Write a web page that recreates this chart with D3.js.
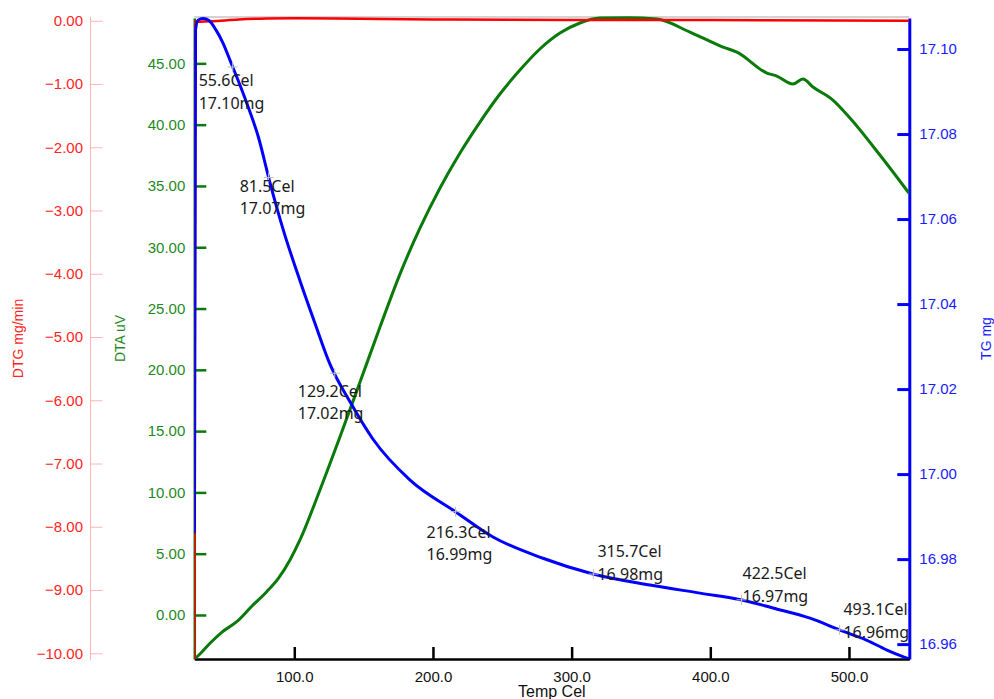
<!DOCTYPE html>
<html>
<head>
<meta charset="utf-8">
<script src="https://cdn.jsdelivr.net/npm/d3@7"></script>
<style>
  body { margin: 0; background: #fff; }
  svg { display: block; }
</style>
</head>
<body>
<div id="chart"></div>
<script>
// TG curve (Temp Cel, mg)
var tgTemp = [28.0, 28.8, 30.6, 34.2, 38.5, 43.5, 48.6, 53.6, 59.4, 65.7, 74.1, 82.5, 92.1, 104.1, 114.9, 125.8, 140.2, 156.8, 183.5, 216.5, 243.3, 279.3, 315.4, 356.5, 392.6, 422.8, 445.2, 471.9, 493.5, 513.0, 527.4, 541.8, 543.3];
var tgMass = [16.9861, 17.1045, 17.1068, 17.1072, 17.1067, 17.1045, 17.1014, 17.0974, 17.0927, 17.0873, 17.0793, 17.0685, 17.0574, 17.0455, 17.0355, 17.0258, 17.0170, 17.0082, 16.9986, 16.9911, 16.9852, 16.9802, 16.9765, 16.9739, 16.9720, 16.9704, 16.9685, 16.9661, 16.9633, 16.9609, 16.9586, 16.9567, 16.9565];

// DTA curve (Temp Cel, uV)
var dtaTemp = [27.9, 32.0, 39.2, 47.9, 58.5, 69.5, 80.1, 88.5, 96.9, 104.1, 118.5, 132.9, 147.4, 161.8, 176.2, 190.7, 205.1, 219.5, 233.9, 248.3, 262.7, 277.1, 291.6, 306.0, 320.4, 340.6, 361.5, 385.3, 409.1, 419.2, 440.8, 448.0, 459.6, 466.8, 474.0, 488.4, 500.7, 522.3, 543.2];
var dtaVal = [-3.59, -3.18, -2.31, -1.39, -0.55, 0.73, 1.90, 2.99, 4.49, 6.12, 10.20, 14.52, 19.00, 23.49, 27.81, 31.57, 34.83, 37.68, 40.21, 42.50, 44.45, 46.17, 47.47, 48.29, 48.69, 48.72, 48.61, 47.55, 46.33, 45.92, 44.21, 43.96, 43.31, 43.72, 43.07, 42.01, 40.54, 37.52, 34.42];

// DTG curve (Temp Cel, mg/min)
var dtgTemp = [27.9, 28.6, 40, 60, 80, 100, 130, 200, 300, 400, 543.3];
var dtgVal = [-10.2, -0.02, -0.01, 0.02, 0.035, 0.04, 0.035, 0.02, 0.01, 0.01, 0.0];

// annotations
var annTemp = [55.6, 81.5, 129.2, 216.3, 315.7, 422.5, 493.1];
var annTempText = ["55.6Cel", "81.5Cel", "129.2Cel", "216.3Cel", "315.7Cel", "422.5Cel", "493.1Cel"];
var annMassText = ["17.10mg", "17.07mg", "17.02mg", "16.99mg", "16.98mg", "16.97mg", "16.96mg"];
// label offset from the point, px
var annOffset = [[-34, 36], [-29, 31], [-37, 40], [-29, 43], [4, 0], [1, -4], [4, 2]];

// ticks
var xTicks = [100, 200, 300, 400, 500];
var dtaTicks = [0, 5, 10, 15, 20, 25, 30, 35, 40, 45];
var dtgTicks = [0, -1, -2, -3, -4, -5, -6, -7, -8, -9, -10];
var tgTicks = [16.96, 16.98, 17.00, 17.02, 17.04, 17.06, 17.08, 17.10];

var width = 994, height = 699;
var pLeft = 194.3, pRight = 909.3, pTop = 18, pBottom = 659;

var red = "#ff0000", green = "#0a780a", blue = "#0000ff";

var svg = d3.select("#chart").append("svg")
    .attr("width", width)
    .attr("height", height);

var x = d3.scaleLinear().domain([27.9, 543.5]).range([pLeft, pRight]);
var yTG = d3.scaleLinear().domain([16.9565, 17.1073]).range([pBottom, pTop]);
var yDTA = d3.scaleLinear().domain([-3.59, 48.70]).range([pBottom, pTop]);
var yDTG = d3.scaleLinear().domain([-10.09, 0.043]).range([pBottom, pTop]);

svg.append("clipPath").attr("id", "clip")
  .append("rect")
    .attr("x", pLeft).attr("y", pTop - 3)
    .attr("width", pRight - pLeft).attr("height", pBottom - pTop + 3);

// top frame line
svg.append("line")
    .attr("x1", pLeft).attr("x2", pRight)
    .attr("y1", pTop - 1).attr("y2", pTop - 1)
    .attr("stroke", "#c4c4c4")
    .attr("stroke-width", 1.5);

var tickFont = "'Liberation Sans', Arial, sans-serif";

// DTG axis (far left)
var gDTG = svg.append("g")
    .attr("transform", "translate(90.5,0)")
    .call(d3.axisLeft(yDTG).tickValues(dtgTicks).tickFormat(d3.format(".2f"))
        .tickSize(-12).tickSizeOuter(0).tickPadding(7.5));
gDTG.select(".domain").attr("stroke", "#ffb5b5").attr("d", "M0," + (pTop - 1) + "V" + (pBottom + 1));
gDTG.selectAll(".tick line").attr("stroke", "#ffb5b5");
gDTG.selectAll(".tick text").attr("fill", "#ff2424").style("font-family", tickFont).style("font-size", "15px");

// DTA axis
var gDTA = svg.append("g")
    .attr("transform", "translate(" + pLeft + ",0)")
    .call(d3.axisLeft(yDTA).tickValues(dtaTicks).tickFormat(d3.format(".2f"))
        .tickSize(-12).tickSizeOuter(0).tickPadding(9));
gDTA.select(".domain").attr("stroke", green).attr("stroke-width", 2.5);
gDTA.selectAll(".tick line").attr("stroke", green).attr("stroke-width", 2.5);
gDTA.selectAll(".tick text").attr("fill", "#1e8a1e").style("font-family", tickFont).style("font-size", "15px");

// TG axis (right)
var gTG = svg.append("g")
    .attr("transform", "translate(" + pRight + ",0)")
    .call(d3.axisRight(yTG).tickValues(tgTicks).tickFormat(d3.format(".2f"))
        .tickSize(-12).tickSizeOuter(0).tickPadding(10));
gTG.select(".domain").attr("stroke", blue).attr("stroke-width", 3);
gTG.selectAll(".tick line").attr("stroke", blue).attr("stroke-width", 3);
gTG.selectAll(".tick text").attr("fill", "#1a1aff").style("font-family", tickFont).style("font-size", "15px");

// Temp axis
var gX = svg.append("g")
    .attr("transform", "translate(0," + pBottom + ")")
    .call(d3.axisBottom(x).tickValues(xTicks).tickFormat(d3.format(".1f"))
        .tickSize(-12).tickSizeOuter(0).tickPadding(12));
gX.select(".domain").attr("stroke", "#000").attr("stroke-width", 2.5);
gX.selectAll(".tick line").attr("stroke", "#000").attr("stroke-width", 2.5);
gX.selectAll(".tick text").attr("fill", "#111").style("font-family", tickFont).style("font-size", "15px");

// axis titles
function yTitle(xpos, txt, col) {
    svg.append("text")
        .attr("transform", "translate(" + xpos + "," + ((pTop + pBottom) / 2) + ") rotate(-90)")
        .attr("text-anchor", "middle")
        .attr("dy", "0.35em")
        .attr("fill", col)
        .style("font-family", tickFont)
        .style("font-size", "14px")
        .text(txt);
}
yTitle(18, "DTG mg/min", "#ff2424");
yTitle(120, "DTA uV", "#1e8a1e");
yTitle(986, "TG mg", "#1a1aff");

svg.append("text")
    .attr("x", (pLeft + pRight) / 2)
    .attr("y", 697)
    .attr("text-anchor", "middle")
    .attr("fill", "#111")
    .style("font-family", tickFont)
    .style("font-size", "16px")
    .text("Temp Cel");

// curves
var plot = svg.append("g").attr("clip-path", "url(#clip)");

var dtaLine = d3.line()
    .x(function(d, i){ return x(dtaTemp[i]); })
    .y(function(d){ return yDTA(d); })
    .curve(d3.curveMonotoneX);

plot.append("path")
    .datum(dtaVal)
    .attr("d", dtaLine)
    .attr("fill", "none")
    .attr("stroke", "#0a7a0a")
    .attr("stroke-width", 3);

var dtgLine = d3.line()
    .x(function(d, i){ return x(dtgTemp[i]); })
    .y(function(d){ return yDTG(d); })
    .curve(d3.curveMonotoneX);

plot.append("path")
    .datum(dtgVal)
    .attr("d", dtgLine)
    .attr("fill", "none")
    .attr("stroke", red)
    .attr("stroke-width", 2.5);

var tgLine = d3.line()
    .x(function(d, i){ return x(tgTemp[i]); })
    .y(function(d){ return yTG(d); })
    .curve(d3.curveMonotoneX);

plot.append("path")
    .datum(tgMass)
    .attr("d", tgLine)
    .attr("fill", "none")
    .attr("stroke", blue)
    .attr("stroke-width", 3);

// value of TG at a temperature (linear between read points)
function tgAt(t) {
    var i = d3.bisectLeft(tgTemp, t);
    if (i <= 0) return tgMass[0];
    if (i >= tgTemp.length) return tgMass[tgMass.length - 1];
    var f = (t - tgTemp[i - 1]) / (tgTemp[i] - tgTemp[i - 1]);
    return tgMass[i - 1] + f * (tgMass[i] - tgMass[i - 1]);
}

var annFont = "'Noto Sans', 'Open Sans', sans-serif";

annTemp.forEach(function(t, i) {
    var px = x(t), py = yTG(tgAt(t));
    var g = svg.append("g");
    g.append("path")
        .attr("d", "M" + (px - 5) + "," + py + "H" + (px + 5) + "M" + px + "," + (py - 5) + "V" + (py + 5))
        .attr("stroke", "#c0c0c0")
        .attr("stroke-width", 1);
    var tx = px + annOffset[i][0], ty = py + annOffset[i][1];
    g.append("text")
        .attr("x", tx).attr("y", ty - 22.5)
        .attr("dy", "0.36em")
        .attr("fill", "#1a1a1a")
        .style("font-family", annFont)
        .style("font-size", "16px")
        .text(annTempText[i]);
    g.append("text")
        .attr("x", tx).attr("y", ty)
        .attr("dy", "0.36em")
        .attr("fill", "#1a1a1a")
        .style("font-family", annFont)
        .style("font-size", "16px")
        .text(annMassText[i]);
});
</script>
</body>
</html>
